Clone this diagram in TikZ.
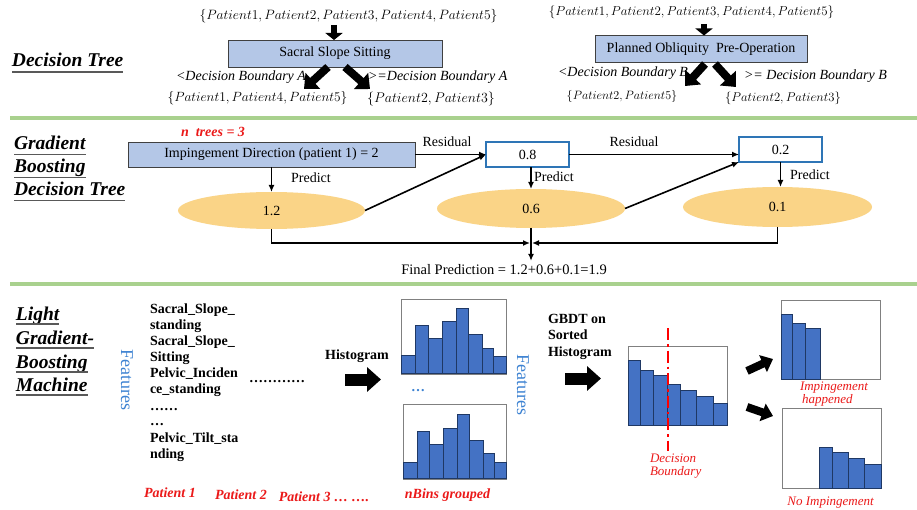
\documentclass[tikz,border=0pt]{standalone}
\usepackage{fontspec}
\setmainfont{Liberation Serif}
\usetikzlibrary{shapes.geometric,arrows.meta,calc}
\definecolor{boxblue}{RGB}{180,199,231}
\definecolor{boxedge}{RGB}{64,64,64}
\definecolor{frameblue}{RGB}{46,117,182}
\definecolor{ellfill}{RGB}{250,212,135}
\definecolor{sepgreen}{RGB}{169,209,142}
\definecolor{barblue}{RGB}{68,114,196}
\definecolor{baredge}{RGB}{31,56,100}
\definecolor{featblue}{RGB}{60,130,210}
\definecolor{redtxt}{RGB}{235,25,25}
\begin{document}
\begin{tikzpicture}[x=1pt,y=-1pt,
  every node/.style={inner sep=0pt, outer sep=0pt},
  ttl/.style={font=\fontsize{19.5}{23}\selectfont\bfseries\itshape, anchor=base west},
  uline/.style={draw=black!65, line width=1.3pt},
  greensep/.style={draw=sepgreen, line width=3.5pt},
  pset/.style={font=\fontsize{13.5}{16}\selectfont},
  lbl/.style={font=\fontsize{14}{16}\selectfont\itshape},
  bluebox/.style={draw=boxedge, fill=boxblue, line width=0.8pt, minimum height=25pt, font=\fontsize{14}{16}\selectfont},
  valbox/.style={draw=frameblue, line width=2pt, fill=white, minimum width=83pt, minimum height=25pt, font=\fontsize{14}{16}\selectfont},
  ell/.style={ellipse, fill=ellfill, draw=none, font=\fontsize{14}{16}\selectfont},
  txt/.style={font=\fontsize{14}{16}\selectfont},
  conn/.style={line width=1.6pt, -{Latex[length=7pt,width=6pt]}},
  fatD/.style={line width=6pt, -{Triangle[length=7pt,width=17pt]}},
  fatA/.style={line width=8pt, -{Triangle[length=12pt,width=21pt]}},
  fatB/.style={line width=12pt, -{Triangle[length=14pt,width=24pt]}},
  fatC/.style={line width=8pt, -{Triangle[length=11pt,width=18pt]}},
  featlist/.style={font=\fontsize{14}{16}\selectfont\bfseries, anchor=mid west},
  redlbl/.style={font=\fontsize{14}{16}\selectfont\bfseries\itshape, text=redtxt},
  redit/.style={font=\fontsize{13}{15}\selectfont\itshape, text=redtxt},
  featv/.style={font=\fontsize{18}{20}\selectfont, text=featblue, rotate=-90},
  histframe/.style={draw=black!50, line width=1pt, fill=white},
  histbar/.style={fill=barblue, draw=baredge, line width=0.7pt}]
\useasboundingbox (0,0) rectangle (917,510);
\fill[white] (0,0) rectangle (917,510);

% separators
\draw[greensep] (10,118) -- (917,118);
\draw[greensep] (10,284) -- (917,284);

% ---------------- Decision tree ----------------
\node[ttl] (t1) at (12,67) {Decision Tree};
\draw[uline] ([yshift=-5pt]t1.base west) -- ([yshift=-5pt]t1.base east);

\node[pset] (s0) at (348.5,16) {\scalebox{0.94}{$\{Patient1, Patient2, Patient3, Patient4, Patient5\}$}};
\node[bluebox, minimum width=214pt, minimum height=27pt] (dt1) at (335,53.5) {Sacral Slope Sitting};
\coordinate (d1t) at (334,25);
\draw[fatD] (d1t) -- (d1t |- dt1.north);
\coordinate (d1la) at (328,67); \coordinate (d1lb) at (304,89);
\coordinate (d1ra) at (345,67); \coordinate (d1rb) at (370,89);
\draw[fatA] (d1la) -- (d1lb);
\draw[fatA] (d1ra) -- (d1rb);
\node[lbl, anchor=east] (dbA1) at (306,77) {<Decision Boundary A};
\node[lbl, anchor=west] (dbA2) at (368,77) {>=Decision Boundary A};
\node[pset] (sA1) at (257.5,98) {\scalebox{0.93}{$\{Patient1, Patient4, Patient5\}$}};
\node[pset] (sA2) at (431,99) {\scalebox{0.97}{$\{Patient2, Patient3\}$}};

\node[pset] (s1) at (691.5,12) {\scalebox{0.9}{$\{Patient1, Patient2, Patient3, Patient4, Patient5\}$}};
\node[bluebox, minimum width=212pt, minimum height=27pt] (dt2) at (701,49) {Planned Obliquity\ \ Pre-Operation};
\coordinate (d2t) at (704,24);
\draw[fatD] (d2t) -- (d2t |- dt2.north);
\coordinate (d2la) at (705,64); \coordinate (d2lb) at (685,86);
\coordinate (d2ra) at (715,64); \coordinate (d2rb) at (736,87);
\draw[fatA] (d2la) -- (d2lb);
\draw[fatA] (d2ra) -- (d2rb);
\node[lbl, anchor=east] (dbB1) at (688,73) {<Decision Boundary B};
\node[lbl, anchor=west] (dbB2) at (744,76) {>= Decision Boundary B};
\node[pset] (sB1) at (622,96) {\scalebox{0.84}{$\{Patient2, Patient5\}$}};
\node[pset] (sB2) at (783,98) {\scalebox{0.88}{$\{Patient2, Patient3\}$}};

% ---------------- GBDT ----------------
\node[ttl] (t2a) at (14,150) {Gradient};
\node[ttl] (t2b) at (14,173) {Boosting};
\node[ttl] (t2c) at (14,196) {Decision Tree};
\foreach \n in {t2a,t2b,t2c}
  \draw[uline] ([yshift=-4.5pt]\n.base west) -- ([yshift=-4.5pt]\n.base east);

\node[redlbl] (ntr) at (213,132) {n\ \ trees = 3};
\node[bluebox, minimum width=287pt] (bd1) at (271.5,154.5) {Impingement Direction (patient 1) = 2};
\node[valbox] (b08) at (527.5,154.5) {0.8};
\node[valbox] (b02) at (780.5,149.5) {0.2};
\node[ell, minimum width=187pt, minimum height=37pt] (e1) at (271.5,210.5) {1.2};
\node[ell, minimum width=188pt, minimum height=39pt] (e2) at (531,208.5) {0.6};
\node[ell, minimum width=189pt, minimum height=40pt] (e3) at (777.5,207) {0.1};

\draw[conn] (bd1.south) -- (bd1.south |- e1.north);
\draw[conn] (b08.south -| e2.north) -- (e2.north);
\draw[conn] (b02.south) -- (b02.south |- e3.north);
\node[txt] (p1) at (311,178) {Predict};
\node[txt] (p2) at (554,177) {Predict};
\node[txt] (p3) at (810,175) {Predict};

\draw[conn] (bd1.east) -- (b08.west);
\draw[conn] (e1.east) -- (b08.west);
\draw[conn] (b08.east) -- (b08.east -| b02.west);
\draw[conn] (e2.east) -- (b02.south west);
\node[txt] (r1) at (447,142) {Residual};
\node[txt] (r2) at (634,142) {Residual};

\node[txt, font=\fontsize{14.5}{16}\selectfont] (fin) at (504,270) {Final Prediction = 1.2+0.6+0.1=1.9};
\coordinate (jy) at (0,243);
\coordinate (jn) at (e2.south |- jy);
\draw[conn] (e1.south) |- ([xshift=-1pt]jn);
\draw[conn] (e3.south) |- ([xshift=1pt]jn);
\draw[conn] (e2.south) -- ($(e2.south |- fin.north)+(0,-4)$);

% ---------------- LightGBM ----------------
\node[ttl] (t3a) at (16,320) {Light};
\node[ttl] (t3b) at (16,344) {Gradient-};
\node[ttl] (t3c) at (16,368) {Boosting};
\node[ttl] (t3d) at (16,391) {Machine};
\foreach \n in {t3a,t3b,t3c,t3d}
  \draw[uline] ([yshift=-4pt]\n.base west) -- ([yshift=-4pt]\n.base east);

\node[featv] (fv1) at (127,380) {Features};
\node[featv] (fv2) at (523,385) {Features};

\node[featlist] (f1) at (150,311.5) {Sacral\_Slope\_};
\node[featlist] (f2) at (150,327) {standing};
\node[featlist] (f3) at (150,343) {Sacral\_Slope\_};
\node[featlist] (f4) at (150,359) {Sitting};
\node[featlist] (f5) at (150,375.5) {Pelvic\_Inciden};
\node[featlist] (f6) at (150,391.5) {ce\_standing};
\node[featlist] (f7) at (150,408) {……};
\node[featlist] (f8) at (150,423) {…};
\node[featlist] (f9) at (150,440) {Pelvic\_Tilt\_sta};
\node[featlist] (f10) at (150,456.5) {nding};
\node[featlist] (fdots) at (249,380) {…………};

\node[redlbl] (pa1) at (170,492.5) {Patient 1};
\node[redlbl] (pa2) at (241,495) {Patient 2};
\node[redlbl] (pa3) at (324,497) {Patient 3 … ….};

\node[featlist, anchor=center] (hg) at (357,356) {Histogram};
\coordinate (ha1) at (345,379.5); \coordinate (ha2) at (381,379.5);
\draw[fatB] (ha1) -- (ha2);

% histogram 1
\draw[histframe] (401,299) rectangle (506,374);
\foreach \a/\b/\t in {401/415/355, 415/428/325, 428/442/338, 442/456/321, 456/468/308, 468/482/334, 482/493/348, 493/506/356}
  \draw[histbar] (\a,373.5) rectangle (\b,\t);
\node[featlist, anchor=center, text=featblue] (hdots) at (418,391) {…};
% histogram 2
\draw[histframe] (403,404) rectangle (506,479);
\foreach \a/\b/\t in {403/417/462, 417/429/431, 429/443/444, 443/457/428, 457/469/414, 469/483/440, 483/494/453, 494/506/462}
  \draw[histbar] (\a,478.5) rectangle (\b,\t);
\node[redlbl] (nb) at (447.5,495) {nBins grouped};

\node[featlist] (gb1) at (548,321.5) {GBDT on};
\node[featlist] (gb2) at (548,337.5) {Sorted};
\node[featlist] (gb3) at (548,354) {Histogram};
\coordinate (ga1) at (565,378.5); \coordinate (ga2) at (601,378.5);
\draw[fatB] (ga1) -- (ga2);

% big histogram
\draw[histframe] (628,346) rectangle (727,425);
\foreach \a/\b/\t in {628/640/360, 640/653/370, 653/667/375, 667/680/384, 680/696/390, 696/713/396, 713/727/403}
  \draw[histbar] (\a,425) rectangle (\b,\t);
\draw[draw=red, line width=2.6pt, dash pattern=on 12pt off 4pt on 2.5pt off 4pt] (668,328) -- (668,451);
\node[redit, anchor=mid west] (db1) at (650,460) {Decision};
\node[redit, anchor=mid west] (db2) at (650,473) {Boundary};

\coordinate (sa1) at (747,371); \coordinate (sa2) at (773,359);
\coordinate (sb1) at (747,407); \coordinate (sb2) at (773,416);
\draw[fatC] (sa1) -- (sa2);
\draw[fatC] (sb1) -- (sb2);

% impingement histogram
\draw[histframe] (781,300) rectangle (880,379);
\foreach \a/\b/\t in {781/792/314, 792/805/323, 805/820/328}
  \draw[histbar] (\a,379) rectangle (\b,\t);
\node[redit, anchor=mid west] (im1) at (800,388) {Impingement};
\node[redit, anchor=mid west] (im2) at (802,401) {happened};

% no impingement histogram
\draw[histframe] (782,408) rectangle (881,488);
\foreach \a/\b/\t in {819/832/447, 832/848/452, 848/864/458, 864/881/464}
  \draw[histbar] (\a,488) rectangle (\b,\t);
\node[redit] (noi) at (830.5,503) {No Impingement};
\end{tikzpicture}
\end{document}
